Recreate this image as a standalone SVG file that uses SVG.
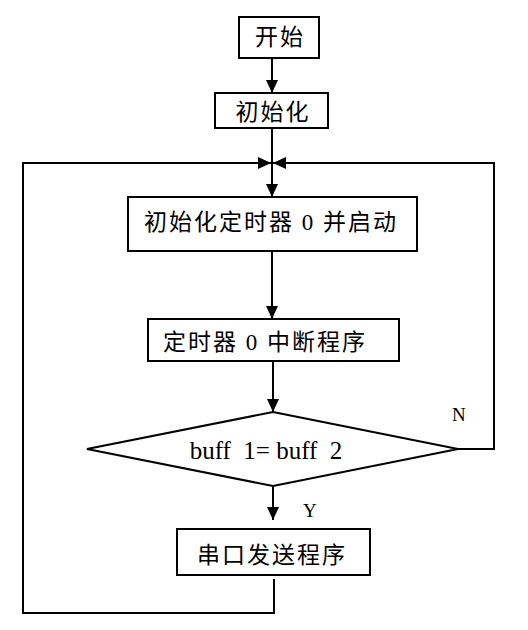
<svg xmlns="http://www.w3.org/2000/svg" width="528" height="630" viewBox="0 0 528 630">
<style>
.box{fill:#fff;stroke:#000;stroke-width:2}
.cn{font-family:"Liberation Serif","Noto Sans CJK SC",serif;font-size:23px;fill:#000;text-anchor:middle;letter-spacing:2px}
.lbl{font-family:"Liberation Serif",serif;font-size:19px;fill:#000}
.ln{fill:none;stroke:#000;stroke-width:2}
</style>
<defs>
<marker id="ah" markerUnits="userSpaceOnUse" markerWidth="14" markerHeight="12" refX="13" refY="6" orient="auto">
<path d="M0,0 L13,6 L0,12 Z" fill="#000"/>
</marker>
</defs>
<g id="connectors">
<path class="ln" d="M272,58 V93" marker-end="url(#ah)"/>
<path class="ln" d="M272,128 V197" marker-end="url(#ah)"/>
<path class="ln" d="M272,251 V319" marker-end="url(#ah)"/>
<path class="ln" d="M273,361 V412" marker-end="url(#ah)"/>
<path class="ln" d="M273,486 V520" marker-end="url(#ah)"/>
<path class="ln" d="M274,579 V613 H23 V163 H271" marker-end="url(#ah)"/>
<path class="ln" d="M458,449 H494 V163 H273" marker-end="url(#ah)"/>
</g>
<g id="start">
<rect class="box" x="239" y="17" width="80" height="41"/>
<text class="cn" x="280" y="45">开始</text>
</g>
<g id="init">
<rect class="box" x="215" y="93" width="113" height="35"/>
<text class="cn" x="273" y="120">初始化</text>
</g>
<g id="timerinit">
<rect class="box" x="128" y="197" width="289" height="54"/>
<text class="cn" x="271" y="230">初始化定时器 0 并启动</text>
</g>
<g id="isr">
<rect class="box" x="148" y="319" width="251" height="42"/>
<text class="cn" x="265" y="350">定时器 0 中断程序</text>
</g>
<g id="decision">
<polygon class="box" points="273,412 458,449 273,486 87,449"/>
<text x="266" y="459" xml:space="preserve" style="font-family:'Liberation Serif',serif;font-size:25px;fill:#000;text-anchor:middle">buff  1= buff  2</text>
<text class="lbl" x="452" y="421">N</text>
<text class="lbl" x="303" y="517">Y</text>
</g>
<g id="send">
<rect class="box" x="177" y="529" width="193" height="46"/>
<text class="cn" x="272" y="563">串口发送程序</text>
</g>
</svg>
